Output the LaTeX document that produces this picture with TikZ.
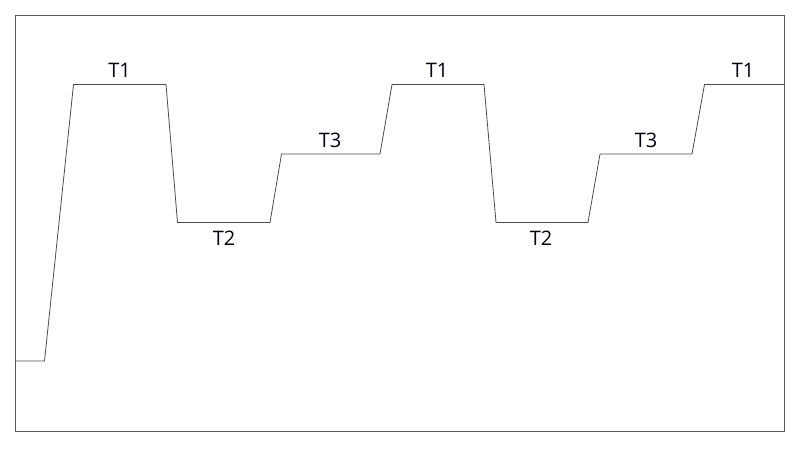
\documentclass[tikz,border=0pt]{standalone}
\usepackage{fontspec}
\setmainfont{Open Sans}
\begin{document}
\begin{tikzpicture}[x=1pt,y=-1pt,
  wave/.style={draw=black!70,line width=0.8pt,line join=miter},
  lbl/.style={font=\fontsize{20}{20}\selectfont,text=black!90!blue,inner sep=0pt,anchor=base},]
\useasboundingbox (0,0) rectangle (800,449);
\draw[draw=black!65,line width=0.9pt] (15.5,15.5) rectangle (784,431);
\coordinate (p0) at (15.5,361);
\coordinate (p1) at (44.5,361);
\coordinate (p2) at (73.5,84.5);
\coordinate (p3) at (166,84.5);
\coordinate (p4) at (177.5,222.5);
\coordinate (p5) at (270,222.5);
\coordinate (p6) at (281.5,154);
\coordinate (p7) at (380,154);
\coordinate (p8) at (392,84.5);
\coordinate (p9) at (484,84.5);
\coordinate (p10) at (496,222.5);
\coordinate (p11) at (588,222.5);
\coordinate (p12) at (600,154);
\coordinate (p13) at (692,154);
\coordinate (p14) at (704.5,84.5);
\coordinate (p15) at (784,84.5);
\draw[wave] (p0)--(p1)--(p2)--(p3)--(p4)--(p5)--(p6)--(p7)--(p8)--(p9)--(p10)--(p11)--(p12)--(p13)--(p14)--(p15);
\node[lbl] (t1a) at (119.5,77.5) {T1};
\node[lbl] (t2a) at (224,245.5) {T2};
\node[lbl] (t3a) at (330,147.5) {T3};
\node[lbl] (t1b) at (437,77.5) {T1};
\node[lbl] (t2b) at (541,245.5) {T2};
\node[lbl] (t3b) at (646,147.5) {T3};
\node[lbl] (t1c) at (743,77.5) {T1};
\end{tikzpicture}
\end{document}
